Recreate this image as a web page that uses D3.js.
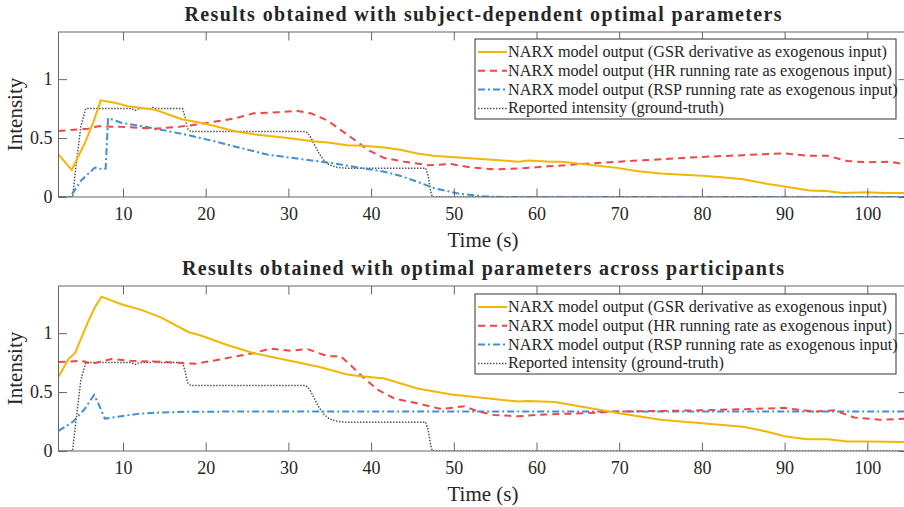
<!DOCTYPE html>
<html>
<head>
<meta charset="utf-8">
<script src="https://cdn.jsdelivr.net/npm/d3@7"></script>
<style>
  body { margin: 0; background: #fff; }
  svg { display: block; }
  text { font-family: 'Liberation Serif', 'Times New Roman', serif; fill: #262626; }
</style>
</head>
<body>
<div id="chart"></div>
<script>
// tick labels
const xTicks = [10, 20, 30, 40, 50, 60, 70, 80, 90, 100];
const yTicks = [0, 0.5, 1];

const titles = [
  "Results obtained with subject-dependent optimal parameters",
  "Results obtained with optimal parameters across participants"
];
const legendLabels = [
  "NARX model output (GSR derivative as exogenous input)",
  "NARX model output (HR running rate as exogenous input)",
  "NARX model output (RSP running rate as exogenous input)",
  "Reported intensity (ground-truth)"
];

// [time (s), intensity]
const subjGsr = [[2.2,0.36],[3.8,0.23],[5.4,0.46],[6.5,0.65],[7.3,0.82],[9,0.80],[10.6,0.77],[13.9,0.74],[17.1,0.66],[19.4,0.63],[21.2,0.60],[23.4,0.56],[26,0.53],[29.4,0.505],[32.7,0.475],[35,0.46],[37.1,0.44],[39,0.435],[41.6,0.42],[43.5,0.40],[45.6,0.37],[47.5,0.35],[49.7,0.34],[53.7,0.32],[57.8,0.30],[59,0.31],[61.8,0.30],[63,0.30],[65.5,0.28],[70,0.245],[72,0.22],[75,0.20],[80,0.18],[82,0.17],[85,0.15],[88,0.11],[90,0.09],[93,0.055],[95,0.05],[97,0.035],[100,0.04],[102,0.035],[105,0.035]];
const subjHr = [[2.2,0.56],[5.8,0.58],[7,0.60],[9.8,0.595],[13.9,0.58],[16.7,0.595],[18.5,0.61],[20.7,0.635],[23.4,0.665],[25.8,0.71],[28.7,0.72],[31.1,0.73],[32.7,0.71],[34.7,0.65],[36.3,0.57],[37.9,0.49],[39.6,0.40],[41.6,0.33],[44,0.30],[46.9,0.27],[49.7,0.28],[52.1,0.25],[55,0.235],[58.2,0.243],[61.4,0.26],[65.5,0.28],[70,0.30],[75,0.32],[80,0.34],[85,0.355],[90,0.37],[92.7,0.35],[95.2,0.35],[97.6,0.305],[100,0.295],[102.8,0.30],[105,0.27]];
const subjRsp = [[2.2,0],[3.6,0],[5,0.145],[6.6,0.25],[7.5,0.235],[7.9,0.24],[8.2,0.67],[9.8,0.63],[13.9,0.58],[17.9,0.525],[21.2,0.47],[27.4,0.36],[35.5,0.285],[38.8,0.245],[41.6,0.215],[43.5,0.18],[45.6,0.13],[47.6,0.075],[50.5,0.03],[53.7,0.005],[56,0],[105,0]];
const groundTruth = [[2.2,0],[3.9,0],[4.3,0.25],[4.9,0.6],[5.5,0.75],[11,0.75],[11.5,0.735],[12,0.75],[13.3,0.75],[13.6,0.76],[14,0.75],[17.2,0.75],[17.5,0.68],[17.8,0.58],[18.2,0.555],[32.1,0.555],[32.6,0.52],[33.1,0.45],[33.7,0.37],[34.3,0.31],[35,0.27],[36,0.25],[37,0.245],[46.6,0.245],[46.9,0.18],[47.2,0.05],[47.4,0],[105,0]];

const acrossGsr = [[2.2,0.63],[3.4,0.78],[4.2,0.83],[5.2,1.0],[5.8,1.10],[6.6,1.22],[7.4,1.31],[9.8,1.245],[12.3,1.195],[14.7,1.13],[17.9,1.01],[19.4,0.98],[22.6,0.90],[25.8,0.83],[29.9,0.77],[33.9,0.71],[37.1,0.65],[38.8,0.635],[41.6,0.615],[45.6,0.53],[49.7,0.48],[53.7,0.45],[57.8,0.42],[59,0.425],[62.2,0.415],[65.5,0.375],[70,0.32],[75,0.265],[80,0.235],[85,0.205],[87.8,0.165],[90,0.125],[92.7,0.10],[95.2,0.10],[97.6,0.08],[100,0.08],[105,0.075]];
const acrossHr = [[2.2,0.755],[5,0.765],[6.2,0.74],[8.6,0.78],[11,0.765],[15.1,0.755],[18.7,0.74],[21.2,0.77],[23.4,0.80],[25.8,0.83],[27.8,0.87],[30.3,0.85],[32.3,0.865],[34.7,0.805],[36.3,0.805],[37.5,0.73],[38.8,0.64],[40.8,0.52],[42.8,0.445],[45.6,0.405],[48.5,0.355],[51.3,0.38],[52.9,0.335],[54.9,0.305],[57.8,0.295],[61,0.31],[65.5,0.32],[70,0.335],[80,0.345],[90,0.365],[93.5,0.335],[96,0.345],[98.4,0.285],[101.5,0.265],[105,0.275]];
const acrossRsp = [[2.2,0.17],[4,0.25],[5.4,0.36],[6.5,0.475],[7,0.405],[7.8,0.275],[9.8,0.295],[11.8,0.315],[13.9,0.325],[17.9,0.333],[25,0.335],[105,0.335]];

const styles = [
  { color: '#F2B705', dash: null, width: 2 },
  { color: '#F04646', dash: '7,5', width: 2 },
  { color: '#3F8FD8', dash: '7,3,2,3', width: 2 },
  { color: '#555555', dash: '1.5,1.5', width: 1.5 }
];

const width = 904, height = 507;
const left = 58.5, right = 907;

const svg = d3.select('#chart').append('svg')
  .attr('width', width)
  .attr('height', height);

drawPanel(svg, 0, 32, 197, titles[0], [subjGsr, subjHr, subjRsp, groundTruth], 39);
drawPanel(svg, 1, 286, 451, titles[1], [acrossGsr, acrossHr, acrossRsp, groundTruth], 294);

function drawPanel(svg, idx, top, bottom, title, series, legendTop) {
  const x = d3.scaleLinear().domain([2.2, 104.8]).range([left, right]);
  const y = d3.scaleLinear().domain([0, 1.4]).range([bottom, top]);
  const g = svg.append('g');

  g.append('clipPath').attr('id', 'clip' + idx)
    .append('rect')
    .attr('x', left).attr('y', top)
    .attr('width', right - left).attr('height', bottom - top);

  const line = d3.line().x(d => x(d[0])).y(d => y(d[1]));

  // ground truth first, then models on top
  [3, 2, 1, 0].forEach(i => {
    g.append('path')
      .datum(series[i])
      .attr('clip-path', `url(#clip${idx})`)
      .attr('fill', 'none')
      .attr('stroke', styles[i].color)
      .attr('stroke-width', styles[i].width)
      .attr('stroke-dasharray', styles[i].dash)
      .attr('d', line);
  });

  const tl = 8.5;
  const axB = g.append('g').attr('transform', `translate(0,${bottom})`)
    .call(d3.axisBottom(x).tickValues(xTicks).tickSize(-tl).tickPadding(10));
  const axT = g.append('g').attr('transform', `translate(0,${top})`)
    .call(d3.axisTop(x).tickValues(xTicks).tickSize(-tl).tickFormat(''));
  const axL = g.append('g').attr('transform', `translate(${left},0)`)
    .call(d3.axisLeft(y).tickValues(yTicks).tickSize(-tl).tickPadding(6).tickFormat(d => d));
  const axR = g.append('g').attr('transform', `translate(${right},0)`)
    .call(d3.axisRight(y).tickValues(yTicks).tickSize(-tl).tickFormat(''));

  [axB, axT, axL, axR].forEach(a => {
    a.select('.domain').remove();
    a.selectAll('line').attr('stroke', '#666');
    a.selectAll('text')
      .style('font-family', "'Liberation Serif', serif")
      .style('font-size', '18px')
      .attr('fill', '#262626');
  });

  g.append('rect')
    .attr('x', left).attr('y', top)
    .attr('width', right - left).attr('height', bottom - top)
    .attr('fill', 'none')
    .attr('stroke', '#666');

  g.append('text')
    .attr('x', 483).attr('y', top - 11)
    .attr('text-anchor', 'middle')
    .attr('font-weight', 'bold')
    .attr('font-size', 20)
    .attr('textLength', idx === 0 ? 597 : 602)
    .attr('lengthAdjust', 'spacing')
    .text(title);

  g.append('text')
    .attr('x', 483).attr('y', bottom + 50)
    .attr('text-anchor', 'middle')
    .attr('font-size', 21)
    .text('Time (s)');

  g.append('text')
    .attr('transform', `translate(22,${(top + bottom) / 2}) rotate(-90)`)
    .attr('text-anchor', 'middle')
    .attr('font-size', 21)
    .text('Intensity');

  // legend
  const lg = g.append('g');
  lg.append('rect')
    .attr('x', 475).attr('y', legendTop)
    .attr('width', 421).attr('height', 80)
    .attr('fill', '#fff')
    .attr('stroke', '#333')
    .attr('stroke-width', 1);

  legendLabels.forEach((label, i) => {
    const ly = legendTop + 13 + i * 18.8;
    lg.append('line')
      .attr('x1', 478).attr('x2', 507)
      .attr('y1', ly).attr('y2', ly)
      .attr('stroke', styles[i].color)
      .attr('stroke-width', styles[i].width)
      .attr('stroke-dasharray', styles[i].dash);
    lg.append('text')
      .attr('x', 508).attr('y', ly + 5)
      .attr('font-size', 16.2)
      .text(label);
  });
}
</script>
</body>
</html>
